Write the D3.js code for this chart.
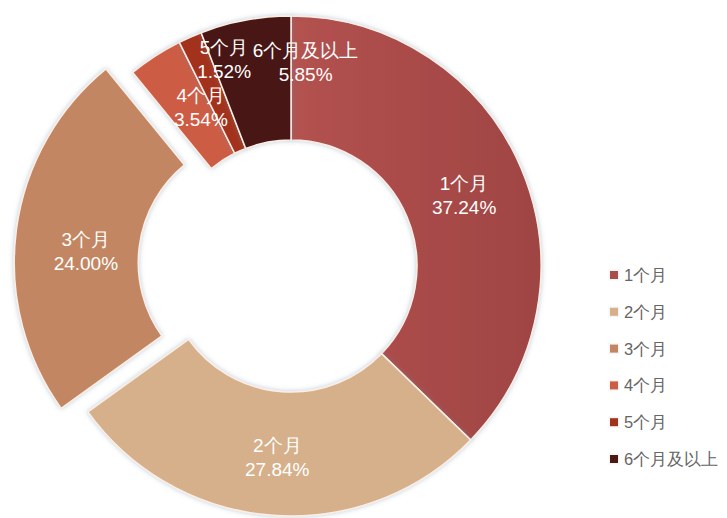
<!DOCTYPE html>
<html><head><meta charset="utf-8">
<script src="https://cdn.jsdelivr.net/npm/d3@7"></script>
<style>
html,body{margin:0;padding:0;background:#fff;}
svg{display:block;font-family:"Liberation Sans",Arial,Helvetica,sans-serif;}
</style></head>
<body><svg id="chart" width="727" height="518"></svg>
<script>
const categories = ["1个月","2个月","3个月","4个月","5个月","6个月及以上"];
const values = [37.24, 27.84, 24.00, 3.54, 1.52, 5.85];
const valueLabels = ["37.24%","27.84%","24.00%","3.54%","1.52%","5.85%"];
const colors = ["#ab4b4a","#d5b08a","#c28762","#cd5c45","#a3321c","#4a1914"];
const exploded = ["3个月"];

const svg = d3.select("#chart");
const cx = 291, cy = 266, R = 250, r0 = 126, explodeDist = 27;

const defs = svg.append("defs");
const f = defs.append("filter").attr("id","sh").attr("x","-20%").attr("y","-20%").attr("width","140%").attr("height","140%");
f.append("feDropShadow").attr("dx",0).attr("dy",0).attr("stdDeviation",2.5).attr("flood-color","#6a8aa0").attr("flood-opacity",0.45);
const g1 = defs.append("linearGradient").attr("id","g1").attr("x1","0").attr("x2","1").attr("y1","0").attr("y2","0");
g1.append("stop").attr("offset","0").attr("stop-color","#b3524f");
g1.append("stop").attr("offset","1").attr("stop-color","#9f4443");

const data = categories.map((c,i)=>({cat:c, value:values[i], label:valueLabels[i], color:colors[i], i}));
const pie = d3.pie().value(d=>d.value).sort(null);
const arcs = pie(data);
const arc = d3.arc().innerRadius(r0).outerRadius(R);
const labelArc = d3.arc().innerRadius((R+r0)/2).outerRadius((R+r0)/2);

function offset(a){
  if(!exploded.includes(a.data.cat)) return [0,0];
  const m = (a.startAngle+a.endAngle)/2;
  return [Math.sin(m)*explodeDist, -Math.cos(m)*explodeDist];
}

const g = svg.append("g").attr("transform",`translate(${cx},${cy})`);
g.selectAll("path.slice").data(arcs).enter().append("path")
  .attr("class","slice")
  .attr("d",arc)
  .attr("transform",d=>{const o=offset(d);return `translate(${o[0]},${o[1]})`;})
  .attr("fill",d=>d.data.i===0?"url(#g1)":d.data.color)
  .attr("stroke","#fbeee6").attr("stroke-width",1.5)
  .attr("filter","url(#sh)");

// label nudges to avoid overlap of small slices
const nudge = {"3个月":[8,14],"4个月":[12,-1],"5个月":[9,-34],"6个月及以上":[49,-19],"1个月":[0,3],"2个月":[0,4]};
const lab = g.selectAll("g.lab").data(arcs).enter().append("g").attr("class","lab")
  .attr("transform",d=>{
    const c = labelArc.centroid(d), o = offset(d), n = nudge[d.data.cat]||[0,0];
    return `translate(${c[0]+o[0]+n[0]},${c[1]+o[1]+n[1]})`;
  });
lab.append("text").attr("text-anchor","middle").attr("y",-12).attr("dominant-baseline","central")
  .attr("fill","#fff").attr("font-size",19).text(d=>d.data.cat);
lab.append("text").attr("text-anchor","middle").attr("y",12).attr("dominant-baseline","central")
  .attr("fill","#fff").attr("font-size",19).text(d=>d.data.label);

// legend
const ly = d3.scalePoint().domain(categories).range([275,459]);
const leg = svg.append("g");
const li = leg.selectAll("g").data(data).enter().append("g")
  .attr("transform",d=>`translate(610,${ly(d.cat)})`);
li.append("rect").attr("x",-1.5).attr("y",-5.5).attr("width",11).attr("height",11).attr("fill","#f5f5f5");
li.append("rect").attr("x",0).attr("y",-4).attr("width",8).attr("height",8).attr("fill",d=>d.color);
li.append("text").attr("x",14).attr("dominant-baseline","central").attr("fill","#666").attr("font-size",16.5).text(d=>d.cat);
</script></body></html>
